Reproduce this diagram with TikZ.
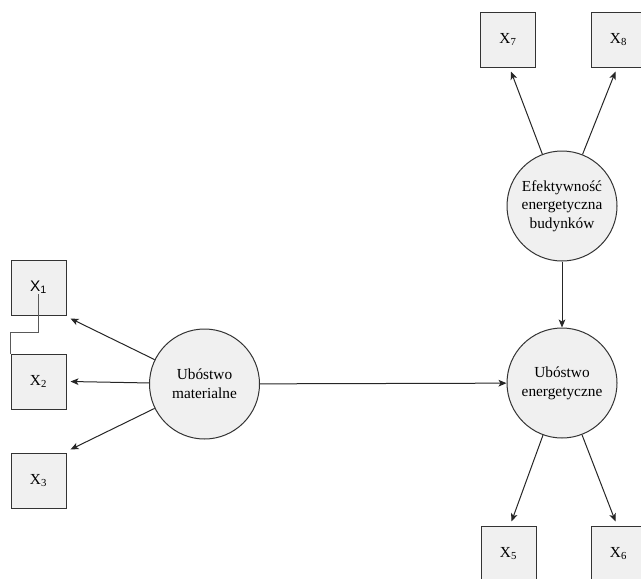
\documentclass[tikz,border=0pt]{standalone}
\usepackage{fontspec}
\setmainfont{Liberation Serif}
\newfontfamily\arialfont{Liberation Sans}
\usetikzlibrary{arrows.meta}

\begin{document}
\begin{tikzpicture}[x=0.75pt,y=-0.75pt]
       \tikzstyle{every node}=[font=\fontsize{11.5}{14}\selectfont]
       \tikzstyle{indicator}=[draw=black!80, fill=black!6, line width=0.75pt, minimum size=41.25pt, inner sep=0pt]
       \tikzstyle{factor}=[circle, draw=black!80, fill=black!6, line width=0.75pt, minimum size=82.5pt, inner sep=0pt, align=center]
       \tikzstyle{loading}=[draw=black!85, line width=0.75pt, -{Stealth[length=6pt,width=5pt,inset=1.5pt]}]

   \useasboundingbox (0,0) rectangle (641,578);

% latent variables
   \node[factor] (materialne) at (204.5,384) {Ubóstwo\\materialne};
   \node[factor] (budynki) at (562,206) {Efektywność\\energetyczna\\budynków};
   \node[factor] (energetyczne) at (562,383) {Ubóstwo\\energetyczne};

% indicators of materialne
   \node[indicator] (X1) at (38.5,287.5) {\arialfont X\textsubscript{1}};
   \node[indicator] (X2) at (38.5,381.5) {X\textsubscript{2}};
   \node[indicator] (X3) at (38.5,480.5) {X\textsubscript{3}};

% indicators of budynki
   \node[indicator] (X7) at (508,39.5) {X\textsubscript{7}};
   \node[indicator] (X8) at (618.5,39.5) {X\textsubscript{8}};

% indicators of energetyczne
   \node[indicator] (X5) at (508.5,553.5) {X\textsubscript{5}};
   \node[indicator] (X6) at (618.5,553.5) {X\textsubscript{6}};

% loadings
   \draw[loading] (materialne) -- ([shift={(4,3)}]X1.south east);
   \draw[loading] (materialne) -- ([shift={(4,0)}]X2.east);
   \draw[loading] (materialne) -- ([shift={(4,-3)}]X3.north east);
   \draw[loading] (budynki) -- ([shift={(3,4)}]X7.south);
   \draw[loading] (budynki) -- ([shift={(-3,4)}]X8.south);
   \draw[loading] (energetyczne) -- ([shift={(3,-4)}]X5.north);
   \draw[loading] (energetyczne) -- ([shift={(-3,-4)}]X6.north);

% paths between factors
   \draw[loading] (materialne) -- (energetyczne);
   \draw[loading] (budynki) -- (energetyczne);

% stray connector X2 -> X1
   \draw[black!65, line width=0.75pt] (X2.north west) -- ++(0,-21) -| ([yshift=-4.9pt]X1.center);

\end{tikzpicture}
\end{document}
